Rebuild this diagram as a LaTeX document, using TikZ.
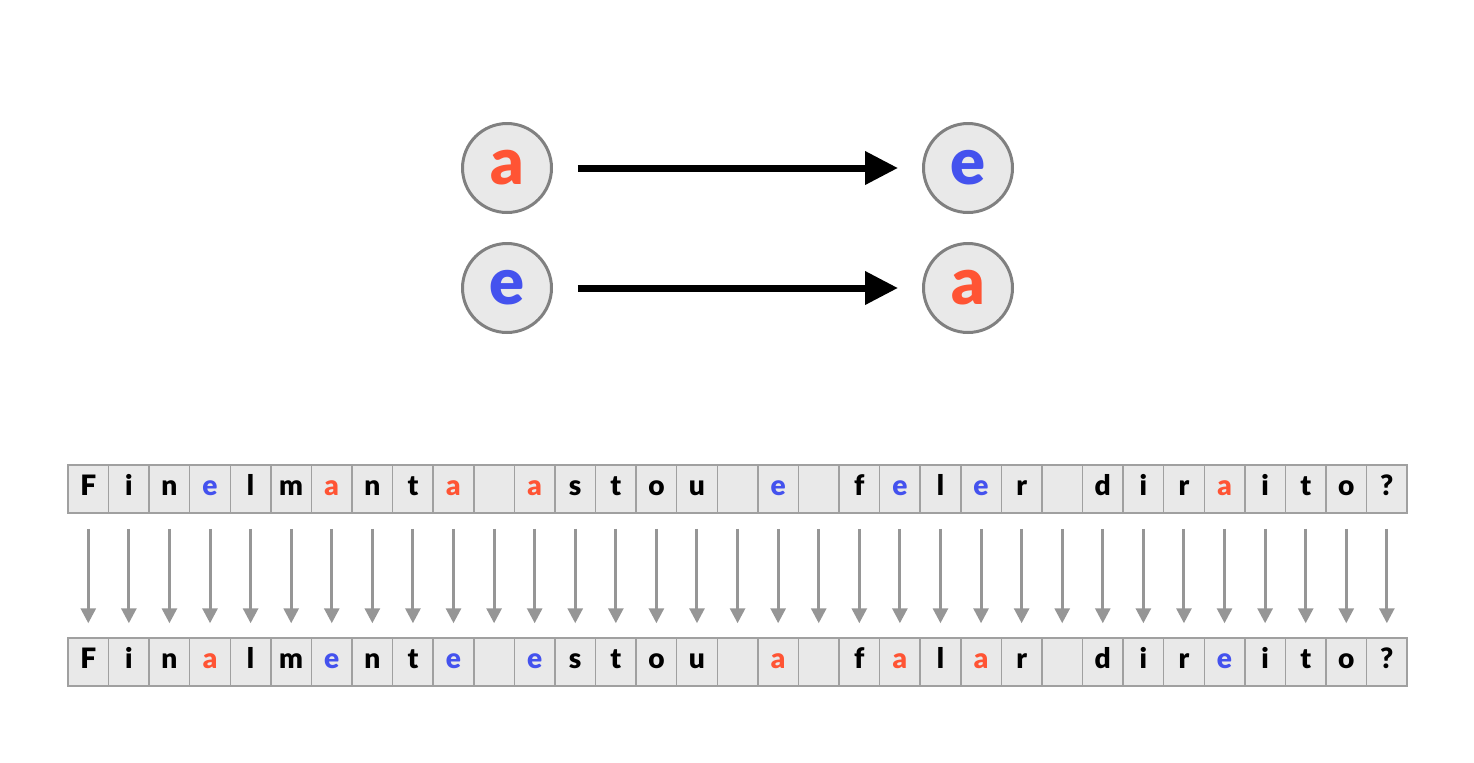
\documentclass[tikz,border=0pt]{standalone}
\usepackage{fontspec}
\setmainfont{Lato}[BoldFont={Lato Black}]
\usetikzlibrary{arrows.meta}
\definecolor{lettera}{RGB}{255,84,52}
\definecolor{lettere}{RGB}{68,82,238}
\definecolor{cellback}{RGB}{233,233,233}
\definecolor{cellline}{RGB}{160,160,160}
\definecolor{ringline}{RGB}{128,128,128}
\definecolor{stepline}{RGB}{150,150,150}

\newcommand\paint[1]{\if a#1\textcolor{lettera}{a}\else\if e#1\textcolor{lettere}{e}\else\if -#1\else#1\fi\fi\fi}

\begin{document}
\begin{tikzpicture}[x=0.02cm,y=-0.02cm,
  letter/.style={circle,draw=ringline,line width=0.06cm,fill=cellback,minimum size=1.78cm,inner sep=0pt,font=\fontsize{37}{40}\selectfont\bfseries},
  cell/.style={draw=cellline,line width=0.03cm,fill=cellback,minimum width=0.8116cm,minimum height=0.96cm,inner sep=0pt,text height=0.72em,text depth=0pt,font=\fontsize{16}{18}\selectfont\bfseries},
  swap/.style={-{Triangle[length=0.66cm,width=0.64cm]},line width=0.14cm,shorten <=0.5cm,shorten >=0.48cm},
  keep/.style={stepline,-{Triangle[length=0.3cm,width=0.3cm]},line width=0.06cm,shorten <=0.3cm,shorten >=0.28cm}]
\useasboundingbox (0,0) rectangle (1474,762);

% the two swaps
\node[letter] (srca) at (507,168) {\paint{a}};
\node[letter] (srce) at (507,288) {\paint{e}};
\node[letter] (dste) at (968,168) {\paint{e}};
\node[letter] (dsta) at (968,288) {\paint{a}};
\draw[swap] (srca) -- (dste);
\draw[swap] (srce) -- (dsta);

% the sentence before and after
\foreach \tl/\bl [count=\i] in {F/F,i/i,n/n,e/a,l/l,m/m,a/e,n/n,t/t,a/e,-/-,a/e,s/s,t/t,o/o,u/u,-/-,e/a,-/-,f/f,e/a,l/l,e/a,r/r,-/-,d/d,i/i,r/r,a/e,i/i,t/t,o/o,?/?}{
  \node[cell] (t\i) at ({68+(\i-0.5)*40.58},489) {\paint{\tl}};
  \node[cell] (b\i) at ({68+(\i-0.5)*40.58},662) {\paint{\bl}};
  \draw[keep] (t\i) -- (b\i);
}
\end{tikzpicture}
\end{document}
